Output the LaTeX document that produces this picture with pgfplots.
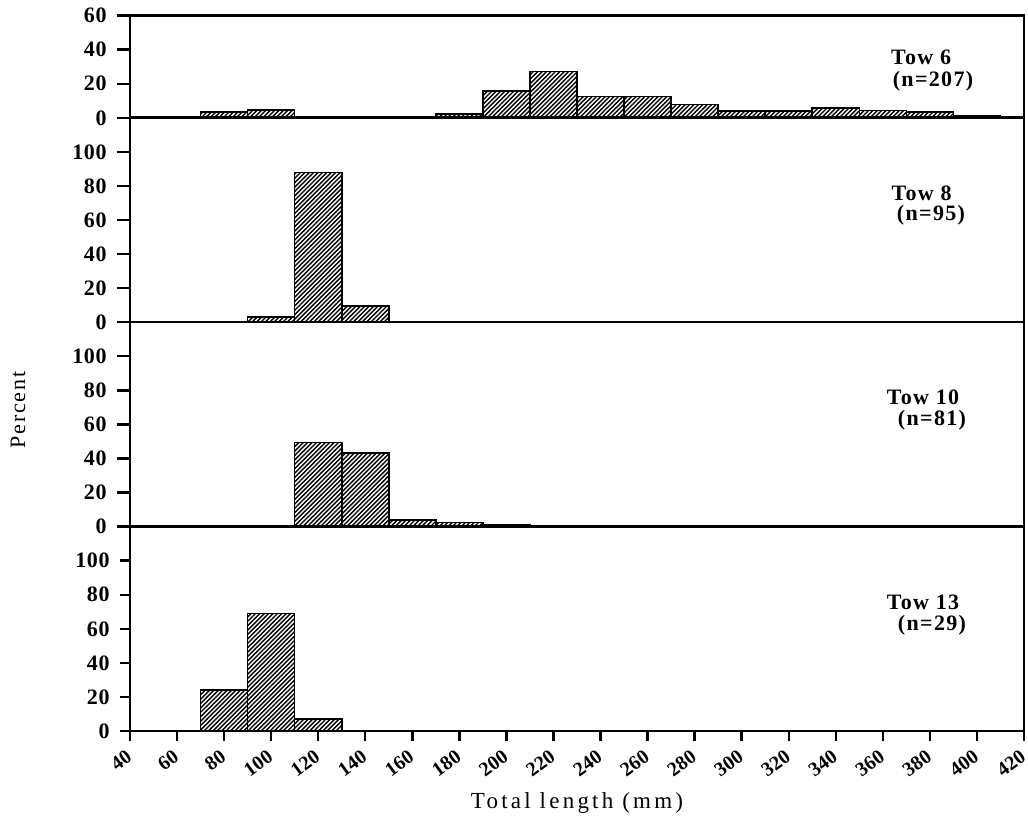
\documentclass[border=0pt]{standalone}
\usepackage{pgfplots}
\pgfplotsset{compat=1.18}
\usepackage{fontspec}
\setmainfont{Liberation Serif}
\newfontfamily\lsfont[LetterSpace=3]{Liberation Serif}
\newfontfamily\xsfont[LetterSpace=0]{Liberation Serif}
\newfontfamily\twfont[LetterSpace=6]{Liberation Serif}
\newfontfamily\lbfont[LetterSpace=14]{Liberation Serif}
\newfontfamily\pcfont[LetterSpace=8]{Liberation Serif}
\usetikzlibrary{patterns}
\pgfdeclarepatternformonly{denselines}{\pgfqpoint{-1pt}{-1pt}}{\pgfqpoint{3.2pt}{3.2pt}}{\pgfqpoint{2.2pt}{2.2pt}}{%
  \pgfsetlinewidth{0.7pt}%
  \pgfpathmoveto{\pgfqpoint{0pt}{0pt}}%
  \pgfpathlineto{\pgfqpoint{2.3pt}{2.3pt}}%
  \pgfusepath{stroke}}
\pgfplotsset{
  panel/.style={
    scale only axis, width=447pt, height=102.2pt,
    xmin=40, xmax=420, ymin=0, ymax=120,
    anchor=south west,
    axis line style={line width=1.3pt},
    ytick={0,20,...,100},
    ytick pos=left, xtick pos=bottom,
    tick align=outside,
    major tick length=6.5pt,
    tick style={line width=1.2pt, black},
    xtick=\empty,
    /pgf/number format/assume math mode=true,
    ticklabel style={font=\lsfont\bfseries\fontsize{11}{12}\selectfont},
    yticklabel style={inner sep=2pt, xshift=-3pt},
    ybar, bar width=20, bar shift=0pt,
  },
  bars/.style={draw=black, line width=0.8pt, pattern=denselines, pattern color=black},
}
\begin{document}
\begin{tikzpicture}
\useasboundingbox (0,0) rectangle (514pt,412.5pt);
% Tow 13
\begin{axis}[panel, at={(65pt,47pt)},
  xtick={40,60,...,420},
  major tick length=5pt,
  xticklabel style={font=\xsfont\bfseries\fontsize{10}{11}\selectfont, rotate=36, anchor=north east, inner sep=0pt, xshift=-4pt, yshift=-1.5pt}]
\addplot[bars] coordinates {(80,24.1) (100,69.0) (120,6.9)};
\end{axis}
% Tow 10
\begin{axis}[panel, at={(65pt,149.2pt)}]
\addplot[bars] coordinates {(120,49.4) (140,43.2) (160,3.7) (180,2.5) (200,1.2)};
\end{axis}
% Tow 8
\begin{axis}[panel, at={(65pt,251.4pt)}]
\addplot[bars] coordinates {(100,3.2) (120,88.0) (140,9.5)};
\end{axis}
% Tow 6
\begin{axis}[panel, at={(65pt,353.6pt)}, height=51.1pt, ymax=60, ytick={0,20,40,60}]
\addplot[bars] coordinates {(80,3.5) (100,4.4) (120,0.5) (160,0.5) (180,2.4) (200,15.9) (220,27.1) (240,12.6) (260,12.6) (280,7.7) (300,3.9) (320,3.9) (340,5.8) (360,4.3) (380,3.4) (400,1.0)};
\end{axis}
\begin{scope}[every node/.style={font=\twfont\bfseries\fontsize{11}{12}\selectfont, inner sep=0pt}]
\node at (460.5pt,384pt) {Tow 6};
\node at (466.5pt,372pt) {(n=207)};
\node at (460.75pt,316pt) {Tow 8};
\node at (465.5pt,305pt) {(n=95)};
\node at (461.5pt,214pt) {Tow 10};
\node at (466pt,202.5pt) {(n=81)};
\node at (461.5pt,111.5pt) {Tow 13};
\node at (466pt,100pt) {(n=29)};
\end{scope}
\node[font=\lbfont\fontsize{11.5}{12}\selectfont, inner sep=0pt] at (288.5pt,11pt) {Total length (mm)};
\node[font=\pcfont\fontsize{11}{12}\selectfont, inner sep=0pt, rotate=90] at (9pt,207.5pt) {Percent};
\end{tikzpicture}
\end{document}
